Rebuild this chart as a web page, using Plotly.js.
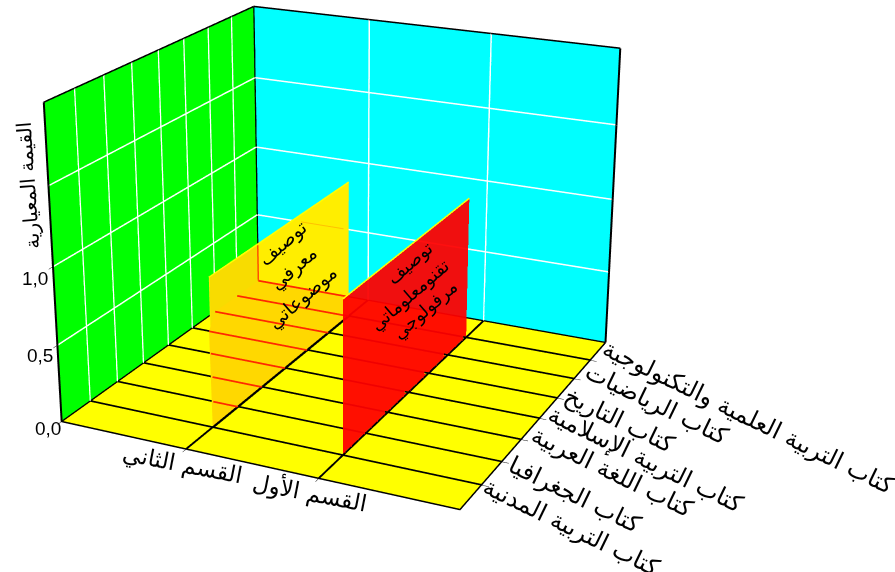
<!DOCTYPE html><html><head><meta charset="utf-8"><script src="https://cdn.plot.ly/plotly-3.0.1.min.js"></script>
<style>html,body{margin:0;padding:0;background:#fff;overflow:hidden;width:895px;height:572px}#c{position:absolute}</style></head><body><div id="c"></div>
<script>
// ---- data
const sectionPositions=[1,2];
const sectionLabels=['القسم الثاني','القسم الأول'];
const bookPositions=[1,2,3,4,5,6,7];
const bookLabels=['كتاب التربية المدنية','كتاب الجغرافيا','كتاب اللغة العربية','كتاب التربية الإسلامية','كتاب التاريخ','كتاب الرياضيات','كتاب التربية العلمية والتكنولوجية'];
const sectionTwoValues=[0.965,0.965,0.965,0.965,0.965,0.965,0.965];
const sectionOneValues=[0.98,0.98,0.98,0.98,0.98,0.98,0.98];
const zGridValues=[0.5,1,1.5];
const zTickLabels=['0,0','0,5','1,0'];
const zTitle='القيمة المعيارية';
const sectionTwoNote=['توصيف','معرفي','موضوعاتي'];
const sectionOneNote=['توصيف','تقنومعلوماتي','مرفولوجي'];
// floor rows seen through the yellow ribbon: where each row enters and leaves it
const hiddenRowPos=[2,3,4,5,6,7,8];
const hiddenRowStart=[0.8,0.59,0.37,0.15,0,0,0];
const hiddenRowEnd=[1,1,1,1,1,1,0.82];

// ---- view
const xR=[0,3],yR=[0,8],zR=[0,2];
const eye={x:1.8461,y:-3.903,z:1.5875},aspect={x:1,y:0.9831,z:0.7733};
const focal=1939.64,ppx=345.93,ppy=231.47;
const H=0.82843*focal,W=H*895/572,left=ppx-W/2,top_=ppy-H/2;
const el=document.getElementById('c');el.style.left=left+'px';el.style.top=top_+'px';
const px=(x)=>(x-left)/W, py=(y)=>1-(y-top_)/H;

function toBox(x,y,z){return [(x/xR[1]-.5)*aspect.x,(y/yR[1]-.5)*aspect.y,(z/zR[1]-.5)*aspect.z];}
function seen(x,y,z,plane){const P=toBox(x,y,z),E=[eye.x,eye.y,eye.z],bx=(plane/xR[1]-.5)*aspect.x,t=(bx-E[0])/(P[0]-E[0]);
 const Q=[0,1,2].map(i=>E[i]+t*(P[i]-E[i]));return [plane,(Q[1]/aspect.y+.5)*yR[1],(Q[2]/aspect.z+.5)*zR[1]];}

const line=(xs,ys,zs,color,width)=>({type:'scatter3d',mode:'lines',x:xs,y:ys,z:zs,line:{color,width},hoverinfo:'skip',showlegend:false});
const seenLine=(a,b,color,width)=>{const p=seen(a[0],a[1],a[2],1.02),q=seen(b[0],b[1],b[2],1.02);return line([p[0],q[0]],[p[1],q[1]],[p[2],q[2]],color,width);};
const traces=[];
const flat={ambient:1,diffuse:0,specular:0,fresnel:0,roughness:1};
function ribbon(pos,vals,color,opacity){const n=vals.length;traces.push({type:'surface',x:[Array(n).fill(pos),Array(n).fill(pos)],y:[bookPositions,bookPositions],z:[Array(n).fill(0),vals],
 surfacecolor:[Array(n).fill(0),Array(n).fill(0)],cmin:0,cmax:1,colorscale:[[0,color],[1,color]],showscale:false,opacity,hoverinfo:'skip',lighting:flat});}
ribbon(sectionPositions[0],sectionTwoValues,'#FFEE00',1);
ribbon(sectionPositions[1],sectionOneValues,'#FF0000',0.94);
for(const b of bookPositions)traces.push(line([xR[0],xR[1]],[b,b],[0,0],'#000',4.5));
for(const s of sectionPositions)traces.push(line([s,s],[yR[0],yR[1]],[0,0],'#000',4.5));
for(const b of bookPositions)traces.push(line([0,0],[b,b],[zR[0],zR[1]],'#fff',3));
for(const z of zGridValues){traces.push(line([0,0],[yR[0],yR[1]],[z,z],'#fff',3));traces.push(line([xR[0],xR[1]],[yR[1],yR[1]],[z,z],'#fff',3));}
for(const s of sectionPositions)traces.push(line([s,s],[yR[1],yR[1]],[zR[0],zR[1]],'#fff',3));
traces.push(line([0,3,3,0,0],[0,0,8,8,0],[0,0,0,0,0],'#000',3));
traces.push(line([0,0],[0,0],[0,2],'#000',4));
traces.push(line([0,0],[8,8],[0,2],'#000',4));
traces.push(line([3,3],[8,8],[0,2],'#000',4));
traces.push(line([0,0,3],[0,8,8],[2,2,2],'#000',3));
const poly=(pts,color)=>traces.push({type:'mesh3d',x:pts.map(p=>p[0]),y:pts.map(p=>p[1]),z:pts.map(p=>p[2]),
 i:pts.slice(2).map(()=>0),j:pts.slice(2).map((_,k)=>k+1),k:pts.slice(2).map((_,k)=>k+2),color,flatshading:true,lighting:flat,hoverinfo:'skip'});
poly([[1.005,1,0],[1.005,1,sectionTwoValues[0]],seen(0,8,0.27,1.005),seen(0,8,0,1.005)],'#F8DC00');
poly([[1,1],[1,7],[0.82,8],[0,8],[0,6],[0.15,5],[0.37,4],[0.59,3],[0.8,2]].map(p=>seen(p[0],p[1],0,1.01)),'#FFD800');
hiddenRowPos.forEach((b,i)=>traces.push(seenLine([hiddenRowStart[i],b,0],[hiddenRowEnd[i],b,0],'#FF2800',3.5)));
traces.push(seenLine([0,8,0],[0,8,0.27],'#FF5000',3));
traces.push(seenLine([0.4,8,0.5],[0.78,8,0.5],'#FFC000',2));
traces.push(seenLine([1,1,0],[1,7,0],'#000',4.5));
traces.push(line([1,1],[1,7],[sectionTwoValues[0],sectionTwoValues[6]],'#FFFF00',3));
traces.push(line([2,2],[1,7],[sectionOneValues[0],sectionOneValues[6]],'#FFFF00',3));

const ax=(c,vals)=>({range:vals.r,backgroundcolor:c,showbackground:true,showgrid:false,zeroline:false,showticklabels:false,title:{text:''},ticks:vals.t?'outside':'',tickmode:'array',tickvals:vals.t||[],ticklen:6,tickcolor:'#000',tickwidth:1,showline:false,showspikes:false});
const note=(t,x,y,a,size,col,fam)=>({xref:'paper',yref:'paper',x:px(x),y:py(y),xanchor:'center',yanchor:'middle',showarrow:false,text:t,textangle:a,font:{family:fam||'DejaVu Sans',size,color:col||'#000'}});
const annotations=[
 note(sectionLabels[0],182,464,11,23),note(sectionLabels[1],310,493,11,23),
 note(bookLabels[0],571,527,26,24),note(bookLabels[1],575,495,26,24),note(bookLabels[2],612,472,26,24),note(bookLabels[3],645,459,26,24),note(bookLabels[4],619,420,26,24),note(bookLabels[5],657,404,26,24),note(bookLabels[6],748,417,26,24),
 note(zTickLabels[0],48,428,0,19,'#000','Liberation Sans'),note(zTickLabels[1],40,355,0,19,'#000','Liberation Sans'),note(zTickLabels[2],35,278,0,19,'#000','Liberation Sans'),
 note(zTitle,28,186,-94,20),
 note(sectionTwoNote[0],282,243,-41,19),note(sectionTwoNote[1],293,268,-41,19),note(sectionTwoNote[2],302,297,-41,19),
 note(sectionOneNote[0],410,263,-41,18),note(sectionOneNote[1],410,295,-41,18),note(sectionOneNote[2],425,310,-41,18)
];
Plotly.newPlot(el,traces,{width:W,height:H,margin:{l:0,r:0,t:0,b:0},showlegend:false,paper_bgcolor:'#fff',hovermode:false,annotations,
 scene:{domain:{x:[0,1],y:[0,1]},aspectmode:'manual',aspectratio:aspect,camera:{eye,center:{x:0,y:0,z:0},up:{x:0,y:0,z:1}},
 xaxis:ax('#00FF00',{r:xR,t:sectionPositions}),yaxis:ax('#00FFFF',{r:yR,t:bookPositions}),zaxis:ax('#FFFF00',{r:zR,t:[0,0.5,1]})}},{displayModeBar:false});
</script></body></html>
